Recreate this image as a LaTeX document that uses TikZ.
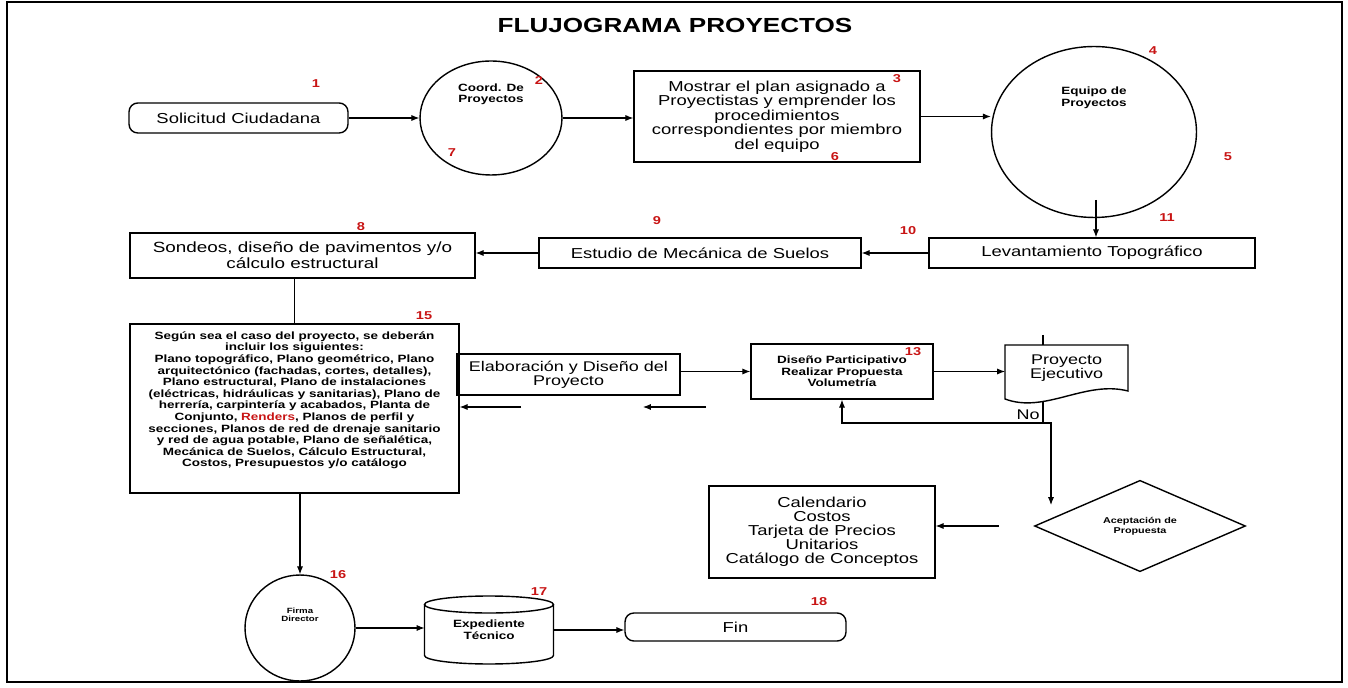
\documentclass[tikz,border=0pt]{standalone}
\usepackage{fontspec}
\setmainfont{Liberation Sans}[FakeStretch=1.28]
\usepackage{xcolor}
\usepackage{tikz}
\usetikzlibrary{arrows.meta,positioning,shapes.geometric,calc}
\definecolor{numred}{HTML}{C81414}

\begin{document}
\begin{tikzpicture}[x=0.02cm,y=-0.02cm,font=\fontsize{8.2}{8.2}\selectfont]
        \tikzstyle{box}=[draw,line width=0.8pt,align=center,inner sep=1pt]
        \tikzstyle{rbox}=[box,rounded corners=5pt]
        \tikzstyle{oval}=[draw,line width=0.8pt,ellipse,inner sep=0pt]
        \tikzstyle{tiny}=[font=\bfseries\fontsize{6}{6.6}\selectfont,align=center,inner sep=0pt]
        \tikzstyle{num}=[text=numred,font=\bfseries\fontsize{6.5}{6.5}\selectfont,inner sep=0pt]
        \tikzstyle{arr}=[line width=0.6pt,-{Latex[length=4.5pt,width=3.5pt]}]
        \useasboundingbox (0,0) rectangle (1348,688);
        \draw[line width=1pt] (7,2) rectangle (1342,682);
        \node[font=\bfseries\fontsize{11.6}{12}\selectfont] (title) at (675,25) {FLUJOGRAMA PROYECTOS};
        % Upper row
        \node[rbox,minimum width=4.38cm,minimum height=0.6cm] (sol) at (238.5,118) {Solicitud Ciudadana};
        \node[oval,minimum width=2.84cm,minimum height=2.28cm] (coord) at (491,118) {};
        \node[tiny,below=0.46cm of coord.north] (coordtxt) {Coord. De\\Proyectos};
        \node[box,minimum width=5.72cm,minimum height=1.82cm] (plan) at (777,116.5) {Mostrar el plan asignado a\\Proyectistas y emprender los\\procedimientos\\correspondientes por miembro\\del equipo};
        \node[oval,minimum width=4.1cm,minimum height=3.42cm] (equipo) at (1094,132) {};
        \node[tiny,below=0.82cm of equipo.north] (equipotxt) {Equipo de\\Proyectos};
        % Second row
        \node[box,minimum width=6.52cm,minimum height=0.6cm] (lev) at (1092,253) {Levantamiento Topográfico};
        \node[box,minimum width=6.44cm,minimum height=0.6cm] (est) at (700,253) {Estudio de Mecánica de Suelos};
        \node[box,minimum width=6.9cm,minimum height=0.9cm,font=\fontsize{8.4}{8.9}\selectfont] (sond) at (302.5,255.5) {Sondeos, diseño de pavimentos y/o\\cálculo estructural};
        % Third row
        \node[box,minimum width=6.58cm,minimum height=3.38cm,font=\bfseries\fontsize{6}{6.6}\selectfont] (planos) at (294.5,408.5) {Según sea el caso del proyecto, se deberán\\incluir los siguientes:\\Plano topográfico, Plano geométrico, Plano\\arquitectónico (fachadas, cortes, detalles),\\Plano estructural, Plano de instalaciones\\(eléctricas, hidráulicas y sanitarias), Plano de\\herrería, carpintería y acabados, Planta de\\Conjunto, \textcolor{numred}{Renders}, Planos de perfil y\\secciones, Planos de red de drenaje sanitario\\y red de agua potable, Plano de señalética,\\Mecánica de Suelos, Cálculo Estructural,\\Costos, Presupuestos y/o catálogo\\[4pt]\mbox{}};
        \node[box,minimum width=4.46cm,minimum height=0.82cm,font=\fontsize{8}{8}\selectfont] (elab) at (568.5,374.5) {Elaboración y Diseño del\\Proyecto};
        \node[box,minimum width=3.64cm,minimum height=1.1cm,font=\bfseries\fontsize{6}{6.5}\selectfont] (dis) at (842,371.5) {Diseño Participativo\\Realizar Propuesta\\Volumetría};
        \node[minimum width=2.46cm,minimum height=0.92cm,align=center,inner sep=0pt,outer sep=0pt,font=\fontsize{8}{8}\selectfont] (proy) at (1066.5,368) {Proyecto\\Ejecutivo};
        \draw[line width=0.8pt] ($(proy.south west)+(0,8)$) -- (proy.north west) -- (proy.north east) -- (proy.south east) .. controls +(-43,-11) and ($(proy.south west)+(40,23)$) .. ($(proy.south west)+(0,8)$) -- cycle;
        \node[diamond,draw,line width=0.8pt,minimum width=4.22cm,minimum height=1.48cm,inner sep=0pt,align=center,font=\bfseries\fontsize{4.8}{5.5}\selectfont] (acep) at (1140,526) {Aceptación de\\Propuesta};
        \node[box,minimum width=4.52cm,minimum height=1.84cm,font=\fontsize{8.2}{7.9}\selectfont] (cal) at (822,532) {Calendario\\Costos\\Tarjeta de Precios\\Unitarios\\Catálogo de Conceptos};
        % Bottom row
        \node[oval,minimum width=2.2cm,minimum height=2.12cm] (firma) at (300,628) {};
        \node[tiny,font=\bfseries\fontsize{4.3}{5}\selectfont,below=0.66cm of firma.north] (firmatxt) {Firma\\Director};
        \node[minimum width=2.58cm,minimum height=1.36cm,inner sep=0pt,outer sep=0pt,align=center,font=\bfseries\fontsize{6}{7}\selectfont] (exp) at (489,630) {Expediente\\Técnico};
        \draw[line width=0.8pt] ($(exp.north west)+(0,-0.17cm)$) -- ($(exp.south west)+(0,0.17cm)$) arc[start angle=180,end angle=360,x radius=1.29cm,y radius=0.17cm] -- ($(exp.north east)+(0,-0.17cm)$);
        \draw[line width=0.8pt] ($(exp.north)+(0,-0.17cm)$) ellipse[x radius=1.29cm,y radius=0.17cm];
        \node[rbox,minimum width=4.42cm,minimum height=0.56cm] (fin) at (735.5,627) {Fin};
        % Connectors
        \draw[arr] (sol.east) -- (coord.west);
        \draw[arr] (coord.east) -- (coord.east -| plan.west);
        \draw[arr] (plan.east) -- (plan.east -| equipo.west);
        \coordinate (eqdrop) at (1096,200);
        \draw[arr] (eqdrop) -- (eqdrop |- lev.north);
        \draw[arr] (lev.west) -- (est.east);
        \draw[arr] (est.west) -- (est.west -| sond.east);
        \draw[line width=0.6pt] (planos.north |- sond.south) -- (planos.north);
        \draw[arr] (elab.east |- dis.west) -- (dis.west);
        \coordinate (back1) at (521,407);
        \draw[arr] (back1) -- (back1 -| planos.east);
        \coordinate (back2s) at (706,407);
        \coordinate (back2e) at (643,407);
        \draw[arr] (back2s) -- (back2e);
        \draw[arr] (dis.east) -- (dis.east -| proy.west);
        \coordinate (ptop) at (1043,335);
        \draw[line width=0.6pt] (ptop) -- (ptop |- proy.north);
        % Feedback "No" and drop to the diamond
        \coordinate (pwave) at (1043,402);
        \coordinate (junc) at (1043,423);
        \coordinate (acdrop) at (1051,505);
        \draw[arr] (pwave) -- (junc) -| (dis.south);
        \draw[arr] (junc) -| (acdrop);
        \node[font=\fontsize{8}{8}\selectfont,inner sep=0pt] (nolbl) at (1028,415) {No};
        \draw[arr,shorten <=0.7cm] (acep.west) -- (acep.west -| cal.east);
        \draw[arr] (planos.south -| firma.north) -- (firma.north);
        \draw[arr] (firma.east) -- (firma.east -| exp.west);
        \draw[arr] (exp.east) -- (exp.east -| fin.west);
        % Step numbers
        \node[num] (n1) at (316,84) {1};
        \node[num] (n2) at (539,81) {2};
        \node[num] (n3) at (897,79) {3};
        \node[num] (n4) at (1153,51) {4};
        \node[num] (n5) at (1228,157) {5};
        \node[num] (n6) at (835,157) {6};
        \node[num] (n7) at (452,153) {7};
        \node[num] (n8) at (361,227) {8};
        \node[num] (n9) at (657,221) {9};
        \node[num] (n10) at (908,231) {10};
        \node[num] (n11) at (1167,218) {11};
        \node[num] (n13) at (913,352) {13};
        \node[num] (n15) at (424,316) {15};
        \node[num] (n16) at (338,575) {16};
        \node[num] (n17) at (539,592) {17};
        \node[num] (n18) at (819,602) {18};
      \end{tikzpicture}
\end{document}
